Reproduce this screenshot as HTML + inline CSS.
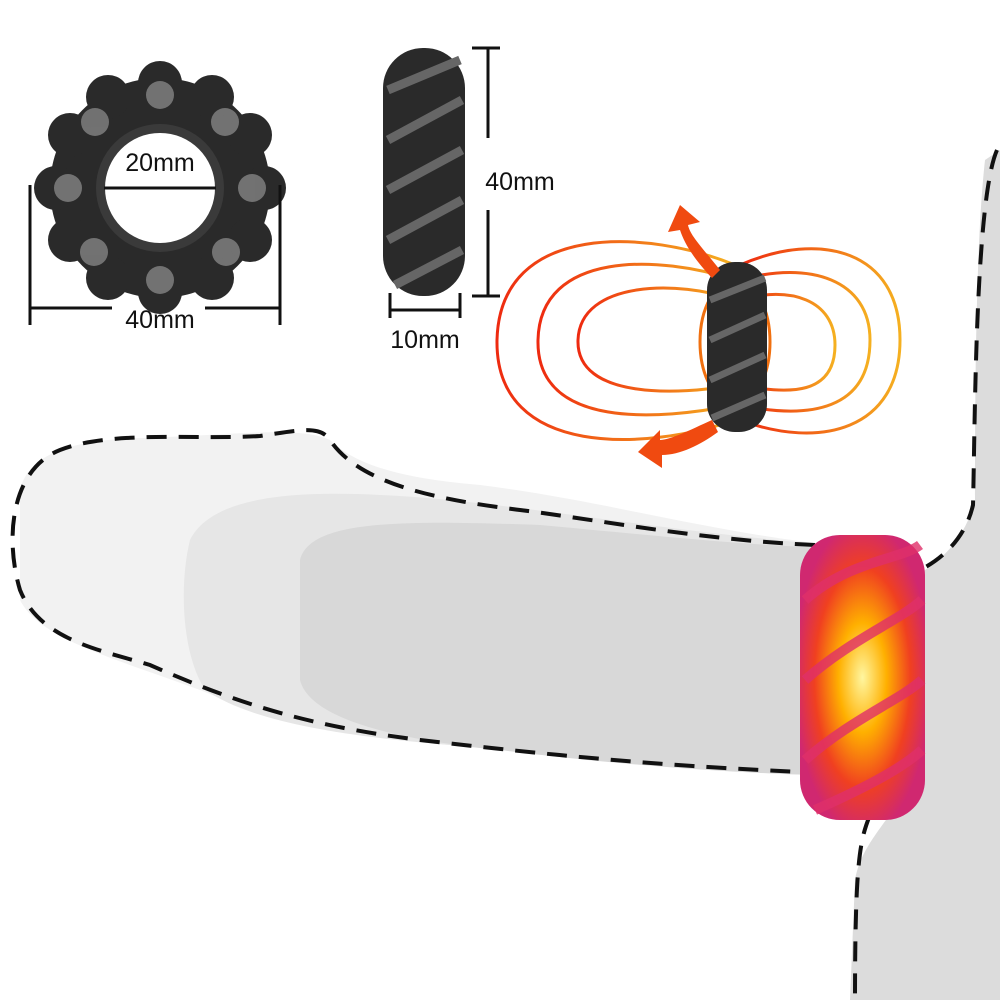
<!DOCTYPE html>
<html><head><style>html,body{margin:0;padding:0;background:#fff}svg{display:block}</style></head>
<body>
<svg width="1000" height="1000" viewBox="0 0 1000 1000" xmlns="http://www.w3.org/2000/svg">
<defs>
<radialGradient id="glow" cx="50%" cy="50%" r="55%">
<stop offset="0" stop-color="#fff6a0"/><stop offset="0.35" stop-color="#ffb000"/><stop offset="0.7" stop-color="#f04020"/><stop offset="1" stop-color="#d02870"/></radialGradient>
<linearGradient id="fl" x1="0" x2="1"><stop offset="0" stop-color="#ee2a10"/><stop offset="1" stop-color="#f5b020"/></linearGradient>
</defs>
<!-- body right -->
<path d="M1000 150 L985 160 C975 250 975 420 975 500 C965 540 940 560 925 570 L900 800 C880 830 860 850 855 880 L850 1000 L1000 1000 Z" fill="#dcdcdc"/>
<path d="M997 150 C975 200 975 430 973 505 C965 540 940 560 920 570" fill="none" stroke="#111" stroke-width="4" stroke-dasharray="20 12"/>
<path d="M870 815 C860 840 855 860 855 1000" fill="none" stroke="#111" stroke-width="4" stroke-dasharray="20 12"/>
<!-- shaft -->
<path d="M20 490 C30 450 80 440 140 438 C220 436 300 425 330 440 C360 470 420 480 480 485 C600 500 700 530 830 545 L810 775 C700 770 600 760 450 745 C350 735 260 715 200 690 C120 660 40 640 20 600 Z" fill="#f2f2f2"/>
<path d="M190 540 C210 500 280 490 380 495 C500 500 650 530 830 545 L810 775 C700 770 600 760 450 745 C330 735 250 720 205 690 C180 650 180 580 190 540 Z" fill="#e6e6e6"/>
<path d="M300 560 C310 520 400 520 540 525 C650 535 740 545 830 548 L810 775 C720 772 620 765 500 750 C400 740 310 720 300 680 Z" fill="#d8d8d8"/>
<path d="M815 545 C700 540 600 520 520 510 C440 500 360 485 330 440 C320 425 300 430 260 436 C200 440 110 430 60 450 C10 470 5 540 20 590 C40 640 100 650 150 665 C230 700 300 725 420 740 C550 755 650 765 800 772" fill="none" stroke="#111" stroke-width="4" stroke-dasharray="20 12"/>
<!-- glowing ring -->
<rect x="800" y="535" width="125" height="285" rx="40" fill="url(#glow)"/>
<g stroke="#e0306a" stroke-width="10" fill="none" opacity="0.8">
<path d="M805 600 C850 560 900 560 920 545"/><path d="M805 680 C850 640 900 620 922 600"/><path d="M805 760 C850 720 900 700 922 680"/><path d="M815 810 C860 790 900 770 922 750"/></g>
<!-- top-left ring -->
<g fill="#2a2a2a">
<circle cx="160" cy="188" r="110"/>
<circle cx="160" cy="83" r="22"/><circle cx="212" cy="97" r="22"/><circle cx="250" cy="135" r="22"/><circle cx="264" cy="188" r="22"/><circle cx="250" cy="240" r="22"/><circle cx="212" cy="278" r="22"/><circle cx="160" cy="292" r="22"/><circle cx="108" cy="278" r="22"/><circle cx="70" cy="240" r="22"/><circle cx="56" cy="188" r="22"/><circle cx="70" cy="135" r="22"/><circle cx="108" cy="97" r="22"/>
</g>
<g fill="#8a8a8a" opacity="0.75">
<circle cx="160" cy="95" r="14"/><circle cx="225" cy="122" r="14"/><circle cx="252" cy="188" r="14"/><circle cx="226" cy="252" r="14"/><circle cx="160" cy="280" r="14"/><circle cx="94" cy="252" r="14"/><circle cx="68" cy="188" r="14"/><circle cx="95" cy="122" r="14"/></g>
<circle cx="160" cy="188" r="64" fill="#3a3a3a"/>
<circle cx="160" cy="188" r="55" fill="#fff"/>
<line x1="104" y1="188" x2="216" y2="188" stroke="#111" stroke-width="3"/>
<text x="160" y="171" font-family="Liberation Sans,sans-serif" font-size="25" text-anchor="middle" fill="#111">20mm</text>
<g stroke="#111" stroke-width="3"><line x1="30" y1="185" x2="30" y2="325"/><line x1="280" y1="185" x2="280" y2="325"/><line x1="30" y1="308" x2="112" y2="308"/><line x1="205" y1="308" x2="280" y2="308"/></g>
<text x="160" y="328" font-family="Liberation Sans,sans-serif" font-size="25" text-anchor="middle" fill="#111">40mm</text>
<!-- side view -->
<rect x="383" y="48" width="82" height="248" rx="40" fill="#2a2a2a"/>
<g stroke="#666" stroke-width="9" fill="none"><path d="M388 90 L460 60"/><path d="M388 140 L462 100"/><path d="M388 190 L462 150"/><path d="M388 240 L462 200"/><path d="M395 285 L462 250"/></g>
<g stroke="#111" stroke-width="3"><line x1="472" y1="48" x2="500" y2="48"/><line x1="488" y1="48" x2="488" y2="138"/><line x1="488" y1="210" x2="488" y2="296"/><line x1="472" y1="296" x2="500" y2="296"/><line x1="390" y1="293" x2="390" y2="318"/><line x1="460" y1="293" x2="460" y2="318"/><line x1="390" y1="310" x2="460" y2="310"/></g>
<text x="520" y="190" font-family="Liberation Sans,sans-serif" font-size="25" text-anchor="middle" fill="#111">40mm</text>
<text x="425" y="348" font-family="Liberation Sans,sans-serif" font-size="25" text-anchor="middle" fill="#111">10mm</text>
<!-- field lines -->
<g fill="none" stroke="url(#fl)" stroke-width="3">
<path d="M735 265 C650 230 500 220 497 340 C495 460 650 450 735 420"/>
<path d="M735 280 C660 255 540 250 538 340 C536 430 660 420 735 405"/>
<path d="M735 300 C680 280 580 280 578 340 C576 400 680 395 735 385"/>
<path d="M740 265 C820 230 900 250 900 340 C900 430 820 450 740 420"/>
<path d="M740 280 C810 260 870 280 870 340 C870 410 810 420 740 405"/>
<path d="M740 300 C790 285 835 300 835 345 C835 395 790 395 740 385"/>
</g>
<ellipse cx="735" cy="342" rx="35" ry="62" fill="none" stroke="#f07010" stroke-width="3"/>
<rect x="707" y="262" width="60" height="170" rx="28" fill="#2a2a2a"/>
<g stroke="#666" stroke-width="7"><line x1="710" y1="300" x2="765" y2="278"/><line x1="710" y1="340" x2="765" y2="315"/><line x1="710" y1="380" x2="765" y2="355"/><line x1="712" y1="418" x2="765" y2="395"/></g>
<path d="M720 270 C700 245 690 235 688 225 L700 222 L680 205 L668 232 L680 230 C685 245 695 260 712 278 Z" fill="#f04a10"/>
<path d="M712 420 C690 430 670 440 660 440 L660 430 L638 452 L662 468 L662 455 C680 455 700 445 718 432 Z" fill="#f04a10"/>
</svg>
</body></html>
